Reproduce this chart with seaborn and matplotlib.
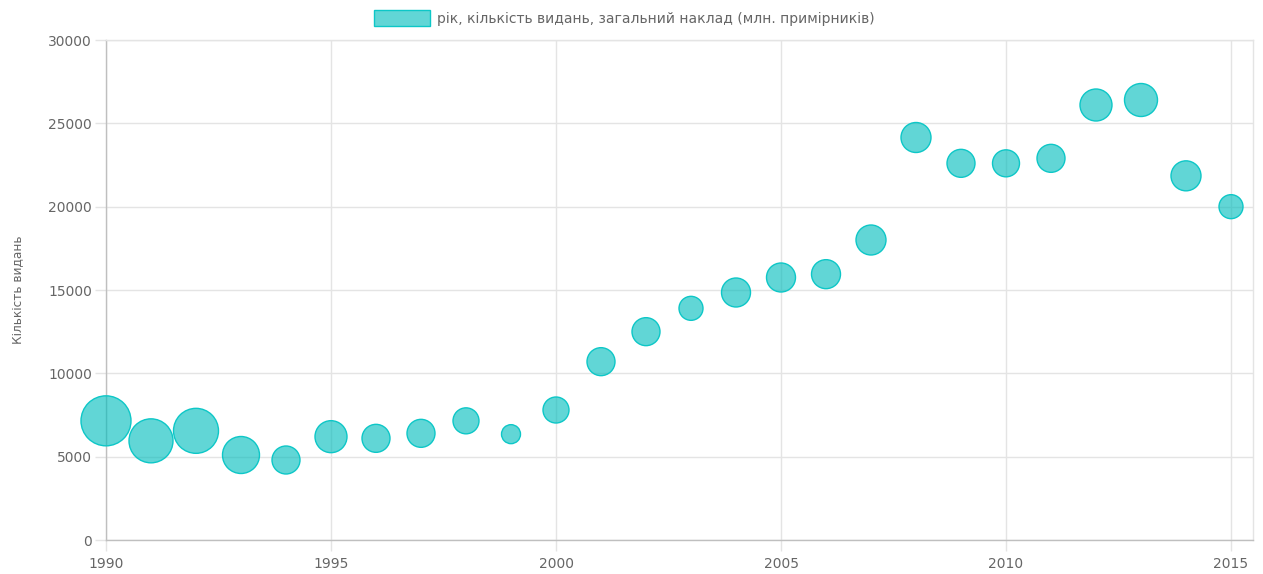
import matplotlib
matplotlib.use("Agg")
import matplotlib.pyplot as plt
import seaborn as sns
import numpy as np
import pandas as pd
from matplotlib.patches import Patch

# ---- data ----
years = [1990, 1991, 1992, 1993, 1994, 1995, 1996, 1997, 1998, 1999,
         2000, 2001, 2002, 2003, 2004, 2005, 2006, 2007, 2008, 2009,
         2010, 2011, 2012, 2013, 2014, 2015]
editions = [7150, 5950, 6550, 5100, 4800, 6200, 6100, 6400, 7150, 6350,
            7800, 10700, 12500, 13900, 14850, 15750, 15950, 18000, 24150, 22600,
            22600, 22900, 26100, 26400, 21850, 20000]
# bubble radius (chart units = pixels), representing total print run
radius = [25, 22, 22.5, 18.5, 14, 16, 14, 14, 13, 9.5,
          13, 14, 14, 12, 14.5, 14.5, 14.5, 15, 15, 14,
          13.5, 14, 16, 16.5, 15, 12]

legend_label = "рік, кількість видань, загальний наклад (млн. примірників)"
y_label = "Кількість видань"
x_ticks = [1990, 1995, 2000, 2005, 2010, 2015]
y_ticks = [0, 5000, 10000, 15000, 20000, 25000, 30000]

df = pd.DataFrame({"year": years, "editions": editions, "r": radius})

sns.set_theme(style="white")
plt.rcParams["font.family"] = ["DejaVu Sans"]

W, H, DPI = 1263, 574, 100
fig = plt.figure(figsize=(W / DPI, H / DPI), dpi=DPI)
ax = fig.add_axes([106 / W, (H - 540) / H, (1253 - 106) / W, (540 - 40) / H])

fill = (0.0, 0.74, 0.74, 0.62)
edge = (0.05, 0.78, 0.78, 1.0)

sizes = (2 * df["r"].to_numpy() * 72 / DPI) ** 2
sns.scatterplot(data=df, x="year", y="editions", s=sizes, color=fill,
                edgecolor=edge, linewidth=1.0, ax=ax, legend=False, zorder=3,
                clip_on=False)
coll = ax.collections[0]
coll.set_facecolor(fill)
coll.set_edgecolor(edge)

ax.set_xlim(1990, 1990 + (1253 - 106) / 45)
ax.set_ylim(0, 30000)
ax.set_xticks(x_ticks)
ax.set_yticks(y_ticks)
ax.set_xticklabels([str(t) for t in x_ticks])
ax.set_yticklabels([str(t) for t in y_ticks])

grid_c = "#e4e4e4"
ax.grid(True, color=grid_c, linewidth=1, alpha=1)
ax.set_axisbelow(True)
for s in ["top", "right"]:
    ax.spines[s].set_color(grid_c)
    ax.spines[s].set_linewidth(1)
for s in ["left", "bottom"]:
    ax.spines[s].set_color("#bfbfbf")
    ax.spines[s].set_linewidth(1)
ax.tick_params(axis="both", which="both", length=8, width=1, color=grid_c,
               labelsize=10, labelcolor="#666666", pad=2)
ax.tick_params(axis="x", pad=4)
ax.tick_params(axis="both", left=True, bottom=True)

ax.set_xlabel("")
ax.set_ylabel(y_label, fontsize=8.7, color="#666666")
ax.yaxis.set_label_coords((24 - 106) / 1147, 0.5)

handle = Patch(facecolor=fill, edgecolor=edge, linewidth=1)
leg = fig.legend([handle], [legend_label], loc="center",
                 bbox_to_anchor=(0.5 - 7 / W, 1 - 18 / H),
                 frameon=False, fontsize=10, handlelength=4.0, handleheight=1.3,
                 handletextpad=0.5, labelcolor="#666666")

fig.savefig("out.png", dpi=DPI)
